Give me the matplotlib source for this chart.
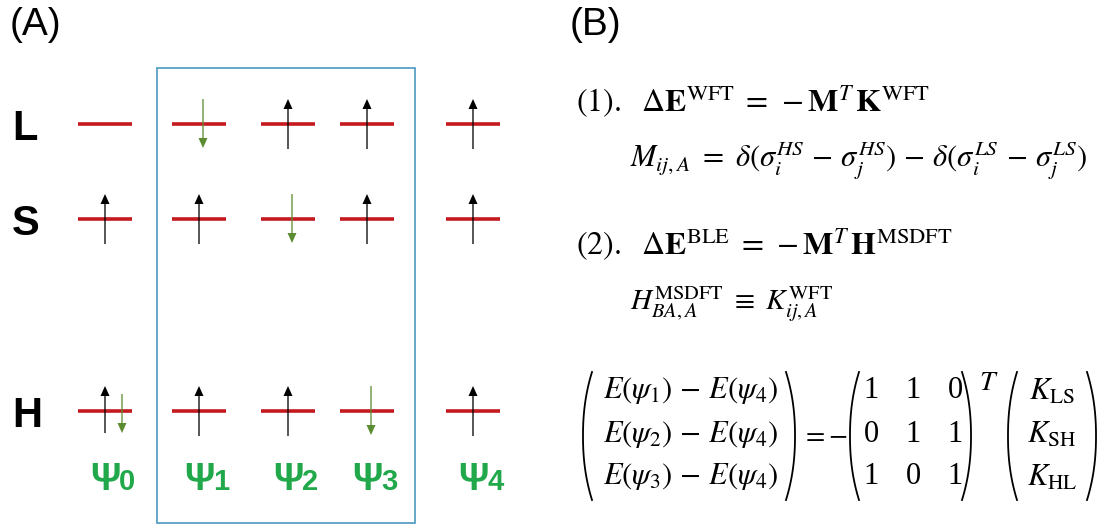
import numpy as np
import matplotlib.pyplot as plt
from matplotlib.patches import Rectangle

plt.rcParams['mathtext.fontset'] = 'stix'

# estados psi_0 .. psi_4 e spins em cada nivel (L, S, H)
estados = ['0', '1', '2', '3', '4']
niveis = ['L', 'S', 'H']
spins = [
    ['', 'u', 'ud'],
    ['d', 'u', 'u'],
    ['u', 'd', 'u'],
    ['u', 'u', 'd'],
    ['u', 'u', 'u'],
]

# matriz M (transposta) e vetores
linhas_E = [r'$E(\psi_1)\,-\,E(\psi_4)$', r'$E(\psi_2)\,-\,E(\psi_4)$', r'$E(\psi_3)\,-\,E(\psi_4)$']
matriz = [[1, 1, 0], [0, 1, 1], [1, 0, 1]]
acoplamentos = [r'$K_{\mathrm{LS}}$', r'$K_{\mathrm{SH}}$', r'$K_{\mathrm{HL}}$']

# layout (pixels)
x_estado = [105, 199, 288, 367, 473]
y_nivel = [124, 219, 411]

vermelho = '#c41a1f'
verde_seta = '#5b8c32'
verde_psi = '#21a84a'
azul = '#4a97c4'

fig = plt.figure(figsize=(11.09, 5.28), dpi=100)
ax = fig.add_axes([0, 0, 1, 1])
ax.set_xlim(0, 1109)
ax.set_ylim(528, 0)
ax.axis('off')

ax.text(10, 35, '(A)', fontsize=28, family='Liberation Sans', va='baseline')
ax.text(570, 35, '(B)', fontsize=28, family='Liberation Sans', va='baseline')

# caixa em volta de psi1..psi3
ax.add_patch(Rectangle((157, 68), 258, 455, fill=False, ec=azul, lw=1.2))

for j, nome in enumerate(niveis):
    ax.text(12, y_nivel[j] + 16, nome, fontsize=30, fontweight='bold',
            family='Liberation Sans', va='baseline')


def seta(x, y0, y1, cor):
    ax.arrow(x, y0, 0, y1 - y0, width=1.3, head_width=9, head_length=10,
             length_includes_head=True, fc=cor, ec='none', zorder=3)


for i, est in enumerate(estados):
    x = x_estado[i]
    for j in range(len(niveis)):
        y = y_nivel[j]
        ax.plot([x - 27, x + 27], [y, y], color=vermelho, lw=2.6, solid_capstyle='butt', zorder=2)
        s = spins[i][j]
        if s == 'u':
            seta(x, y + 25, y - 25, 'black')
        elif s == 'd':
            seta(x + 4, y - 25, y + 24, verde_seta)
        elif s == 'ud':
            seta(x, y + 22, y - 25, 'black')
            seta(x + 17, y - 17, y + 22, verde_seta)
    ax.text(x, 490, 'Ψ', fontsize=27, fontweight='bold', family='Liberation Sans',
            color=verde_psi, ha='center', va='baseline')
    ax.text(x + 14, 490, est, fontsize=21, fontweight='bold', family='Liberation Sans',
            color=verde_psi, ha='left', va='baseline')

# equacoes
ax.text(576, 112, r'$\mathrm{(1).}\ \ \Delta\mathbf{E}^{\mathrm{WFT}}\;=\,-\mathbf{M}^{T}\,\mathbf{K}^{\mathrm{WFT}}$',
        fontsize=23, va='baseline')
ax.text(630, 168, r'$M_{ij,A}\ =\ \delta(\sigma_i^{HS}\,-\,\sigma_j^{HS})\,-\,\delta(\sigma_i^{LS}\,-\,\sigma_j^{LS})$',
        fontsize=22, va='baseline')
ax.text(576, 255, r'$\mathrm{(2).}\ \ \Delta\mathbf{E}^{\mathrm{BLE}}\;=\,-\mathbf{M}^{T}\,\mathbf{H}^{\mathrm{MSDFT}}$',
        fontsize=23, va='baseline')
ax.text(630, 310, r'$H_{BA,A}^{\mathrm{MSDFT}}\ \equiv\ K_{ij,A}^{\mathrm{WFT}}$',
        fontsize=21, va='baseline')


def parentese(x0, y0, y1, lado, w=9):
    t = np.linspace(0, 1, 60)
    xs = x0 + lado * w * np.abs(2 * t - 1) ** 2.2
    ax.plot(xs, y0 + (y1 - y0) * t, color='black', lw=1.3)


y_linhas = [391, 434, 477]
for k in range(3):
    ax.text(691, y_linhas[k], linhas_E[k], fontsize=22, ha='center', va='center')
    for c in range(3):
        ax.text(871 + 42 * c, y_linhas[k], str(matriz[k][c]), fontsize=22,
                family='Liberation Serif', ha='center', va='center')
    ax.text(1052, y_linhas[k], acoplamentos[k], fontsize=22, ha='center', va='center')

parentese(583, 372, 500, 1)
parentese(795, 372, 500, -1)
ax.text(801, 434, r'$=\!-$', fontsize=20, va='center')
parentese(850, 372, 500, 1)
parentese(971, 372, 500, -1)
ax.text(979, 382, r'$T$', fontsize=20, va='center')
parentese(1008, 372, 500, 1)
parentese(1096, 372, 500, -1)

plt.savefig('out.png', dpi=100)
